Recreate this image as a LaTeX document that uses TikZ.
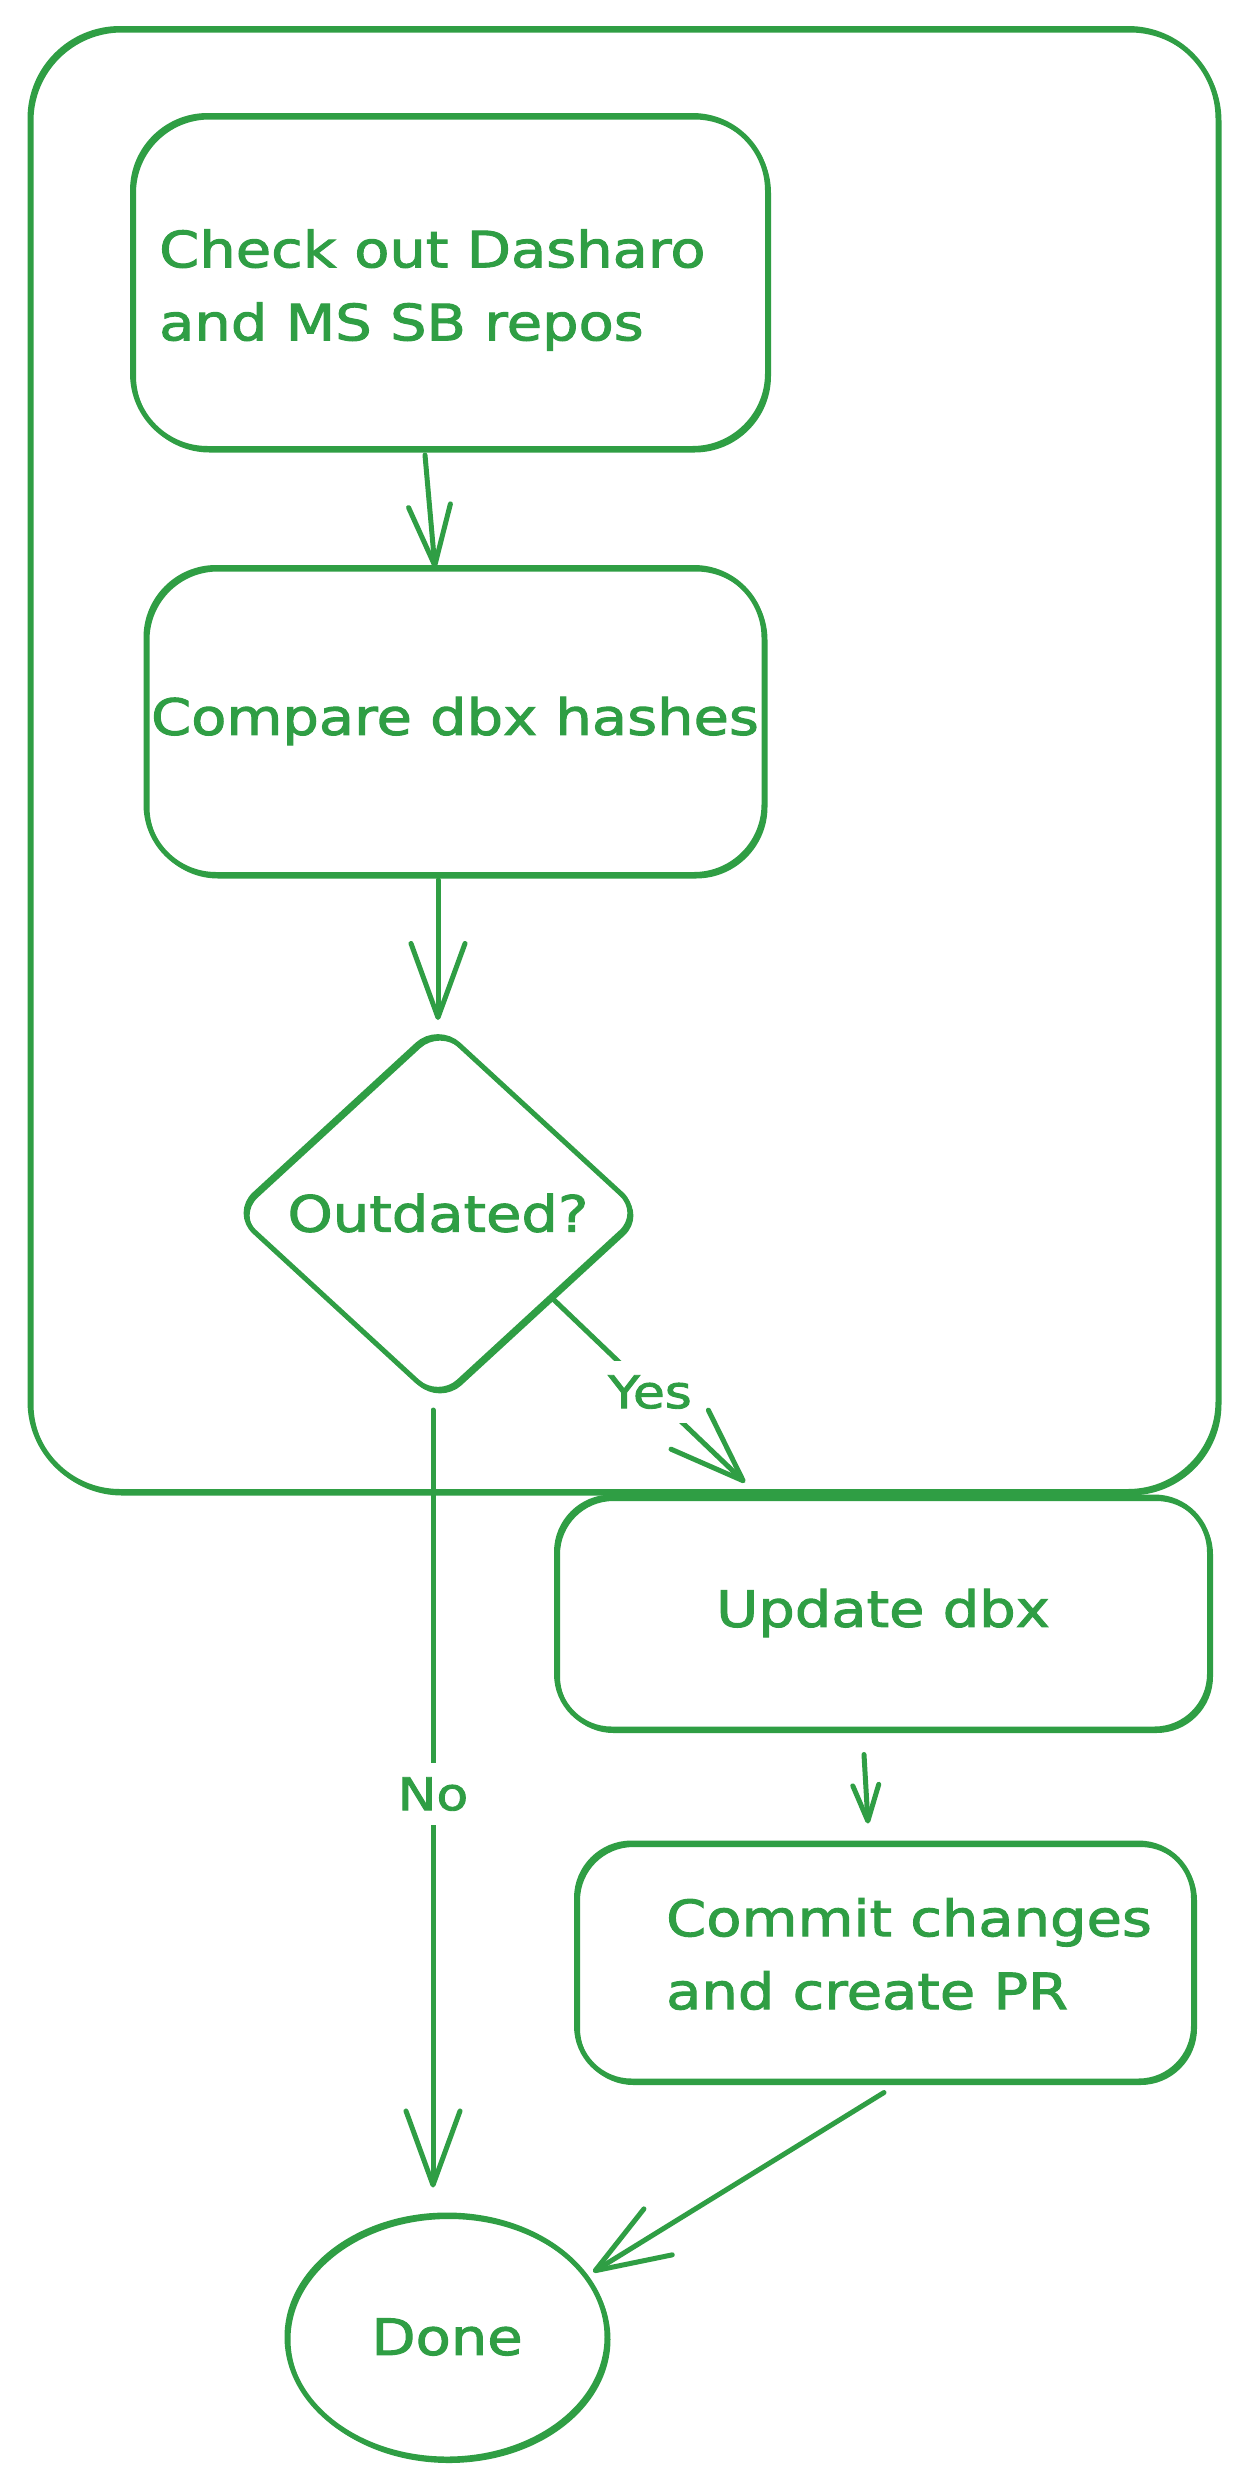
\documentclass[tikz,border=0pt]{standalone}
\usepackage{fontspec}
\setmainfont{DejaVu Sans}[FakeStretch=1.15,FakeBold=2]
\usetikzlibrary{shapes.geometric,arrows.meta}
\definecolor{exgreen}{HTML}{2F9E44}
\begin{document}
\begin{tikzpicture}[x=1pt,y=-1pt,
  shapebox/.style={draw=exgreen, line width=5pt, rounded corners=#1, inner sep=0pt,
    text=exgreen, font=\fontsize{50}{73}\selectfont, align=left,
    postaction={draw=exgreen, line width=3pt, transform canvas={shift={(2pt,-2.5pt)}}}},
  txt/.style={text=exgreen, font=\fontsize{50}{73}\selectfont, align=left, inner sep=0pt, anchor=west},
  flow/.style={draw=exgreen, line width=5pt, line cap=round, line join=round},
  headL/.style={-{Straight Barb[length=74pt,width=54pt,round]}},
  headM/.style={-{Straight Barb[length=60pt,width=42pt,round]}},
  headS/.style={-{Straight Barb[length=36pt,width=26pt,round]}},
  lab/.style={fill=white, inner sep=14pt, text=exgreen, font=\fontsize{45}{54}\selectfont}
]
\fill[white] (0,0) rectangle (1245,2487);
\useasboundingbox (0,0) rectangle (1245,2487);

\node[shapebox=90pt, minimum width=1188pt, minimum height=1463pt] (frame) at (624,760) {};
\node[shapebox=75pt, minimum width=635pt, minimum height=333pt] (chk) at (450,282) {};
\node[txt] (chktext) at (159,290) {Check out Dasharo\\and MS SB repos};
\node[shapebox=70pt, minimum width=618pt, minimum height=307pt] (cmp) at (455,721) {Compare dbx hashes};
\node[shapebox=28pt, diamond, minimum width=410pt, minimum height=377pt] (dia) at (438,1213) {Outdated?};
\node[shapebox=55pt, minimum width=653pt, minimum height=232pt] (upd) at (883,1613) {Update dbx};
\node[shapebox=55pt, minimum width=617pt, minimum height=238pt] (com) at (885,1962) {};
\node[txt] (comtext) at (666,1954) {Commit changes\\and create PR};
\node[shapebox=0pt, ellipse, minimum width=320pt, minimum height=244pt] (done) at (447,2337) {Done};

\draw[flow, headM] ([shift={(-25,4)}]chk.south) -- ([shift={(-20,3)}]cmp.north);
\draw[flow, headL] ([shift={(-17,3)}]cmp.south) -- ([shift={(0,-2)}]dia.north);
\draw[flow, headL] ([shift={(114,85)}]dia.center) -- ([shift={(-138,-12)}]upd.north);
\node[lab] (yes) at (650,1392) {Yes};
\draw[flow, headL] ([shift={(-5,6)}]dia.south) -- ([shift={(-14,-25)}]done.north);
\node[lab] (no) at (433,1794) {No};
\draw[flow, headS] ([shift={(-19,23)}]upd.south) -- ([shift={(-17,-17)}]com.north);
\draw[flow, headL] ([shift={(-1,9)}]com.south) -- ([shift={(146,-65)}]done.center);
\end{tikzpicture}
\end{document}
